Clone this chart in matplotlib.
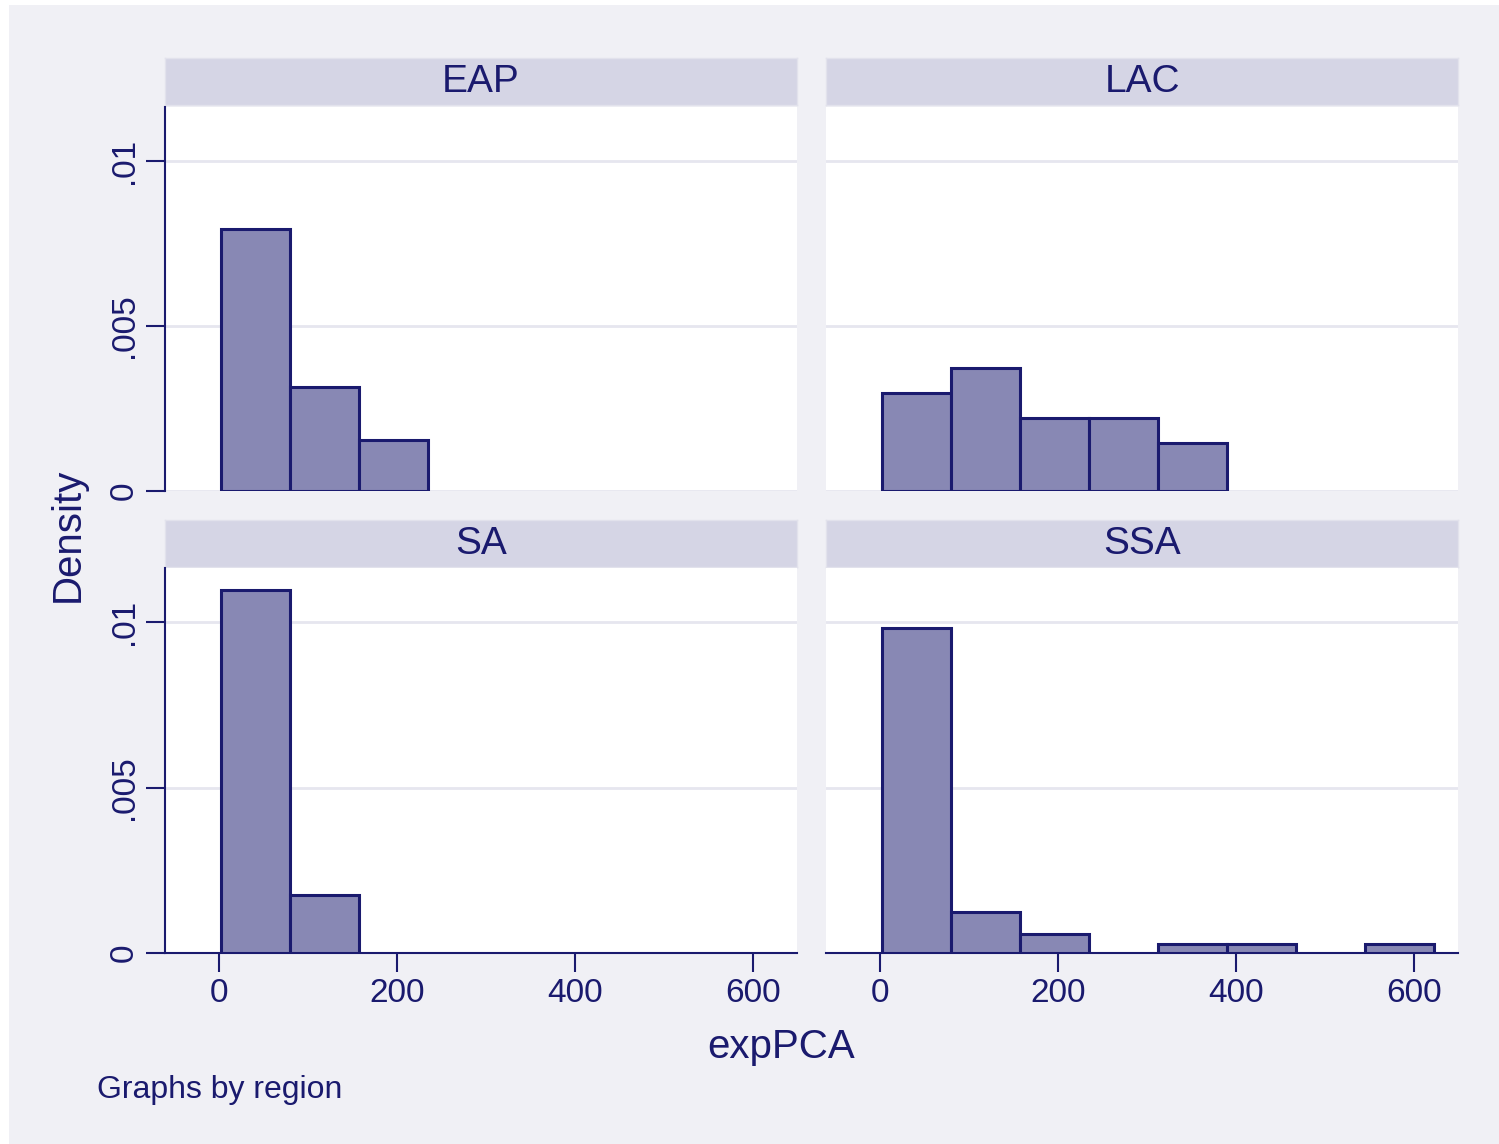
import matplotlib.pyplot as plt
from matplotlib.patches import Rectangle

# histogram densities per region (bins of equal width starting near 2.3)
bin_start = 2.3
bin_width = 77.5
regions = ['EAP', 'LAC', 'SA', 'SSA']
eap = [0.00795, 0.00315, 0.00154]
lac = [0.00296, 0.00372, 0.00221, 0.00221, 0.00145]
sa = [0.01097, 0.00176]
ssa = [0.00982, 0.00124, 0.00058, 0.0, 0.00027, 0.00027, 0.0, 0.00027]
densities = [eap, lac, sa, ssa]

x_ticks = [0, 200, 400, 600]
y_ticks = [0, 0.005, 0.01]
y_ticklabels = ['0', '.005', '.01']

navy = '#1a1a6e'
bg = '#f0f0f5'
strip_col = '#d5d5e5'
bar_col = '#8888b4'
grid_col = '#e6e6ef'

plt.rcParams['font.family'] = ['Liberation Sans', 'DejaVu Sans']

W, H = 1499, 1144
fig = plt.figure(figsize=(W / 100, H / 100), dpi=100)
fig.patch.set_facecolor('white')
fig.patches.append(Rectangle((9 / W, 0), 1, 1 - 5 / H, transform=fig.transFigure,
                             facecolor=bg, edgecolor='none', zorder=-10))


def px_box(x0, y0, x1, y1):
    return [x0 / W, 1 - y1 / H, (x1 - x0) / W, (y1 - y0) / H]


cols = [(165, 797), (826, 1458)]
rows = [(58, 105, 107, 491), (520, 567, 568, 953)]

for i, (name, vals) in enumerate(zip(regions, densities)):
    r, c = divmod(i, 2)
    x0, x1 = cols[c]
    s0, s1, p0, p1 = rows[r]

    # strip header
    sax = fig.add_axes(px_box(x0, s0, x1, s1))
    sax.set_facecolor(strip_col)
    sax.set_xticks([])
    sax.set_yticks([])
    for sp in sax.spines.values():
        sp.set_color('#e2e2ec')
        sp.set_linewidth(1)
    sax.text(0.5, 0.5, name, ha='center', va='center', fontsize=28, color=navy,
             transform=sax.transAxes)

    ax = fig.add_axes(px_box(x0, p0, x1, p1))
    ax.set_facecolor('white')
    edges = [bin_start + k * bin_width for k in range(len(vals))]
    for e, v in zip(edges, vals):
        if v > 0:
            ax.bar(e, v, width=bin_width, align='edge', color=bar_col,
                   edgecolor=navy, linewidth=2.2, zorder=3)
    ax.set_xlim(-60.7, 649)
    ax.set_ylim(0, 0.01164)
    ax.set_yticks(y_ticks)
    ax.set_xticks(x_ticks)
    ax.grid(axis='y', color=grid_col, linewidth=2, zorder=0)
    ax.set_axisbelow(True)
    for sp in ['top', 'right']:
        ax.spines[sp].set_visible(False)
    ax.spines['left'].set_color(navy)
    ax.spines['bottom'].set_color(navy)
    ax.spines['left'].set_linewidth(1.5)
    ax.spines['bottom'].set_linewidth(1.5)
    ax.tick_params(colors=navy, length=14, width=1.5, labelsize=24, pad=4)

    if c == 0:
        ax.set_yticklabels(y_ticklabels, rotation=90, va='center')
    else:
        ax.spines['left'].set_visible(False)
        ax.tick_params(axis='y', left=False, labelleft=False)
    if r == 1:
        ax.set_xticklabels([str(t) for t in x_ticks])
    else:
        ax.spines['bottom'].set_visible(False)
        ax.tick_params(axis='x', bottom=False, labelbottom=False)

fig.text(781 / W, 1 - 1047 / H, 'expPCA', ha='center', va='center', fontsize=29, color=navy)
fig.text(68 / W, 1 - 535 / H, 'Density', ha='center', va='center', fontsize=29,
         color=navy, rotation=90)
fig.text(97 / W, 1 - 1090 / H, 'Graphs by region', ha='left', va='center', fontsize=23,
         color=navy)

fig.savefig('out.png', dpi=100)
